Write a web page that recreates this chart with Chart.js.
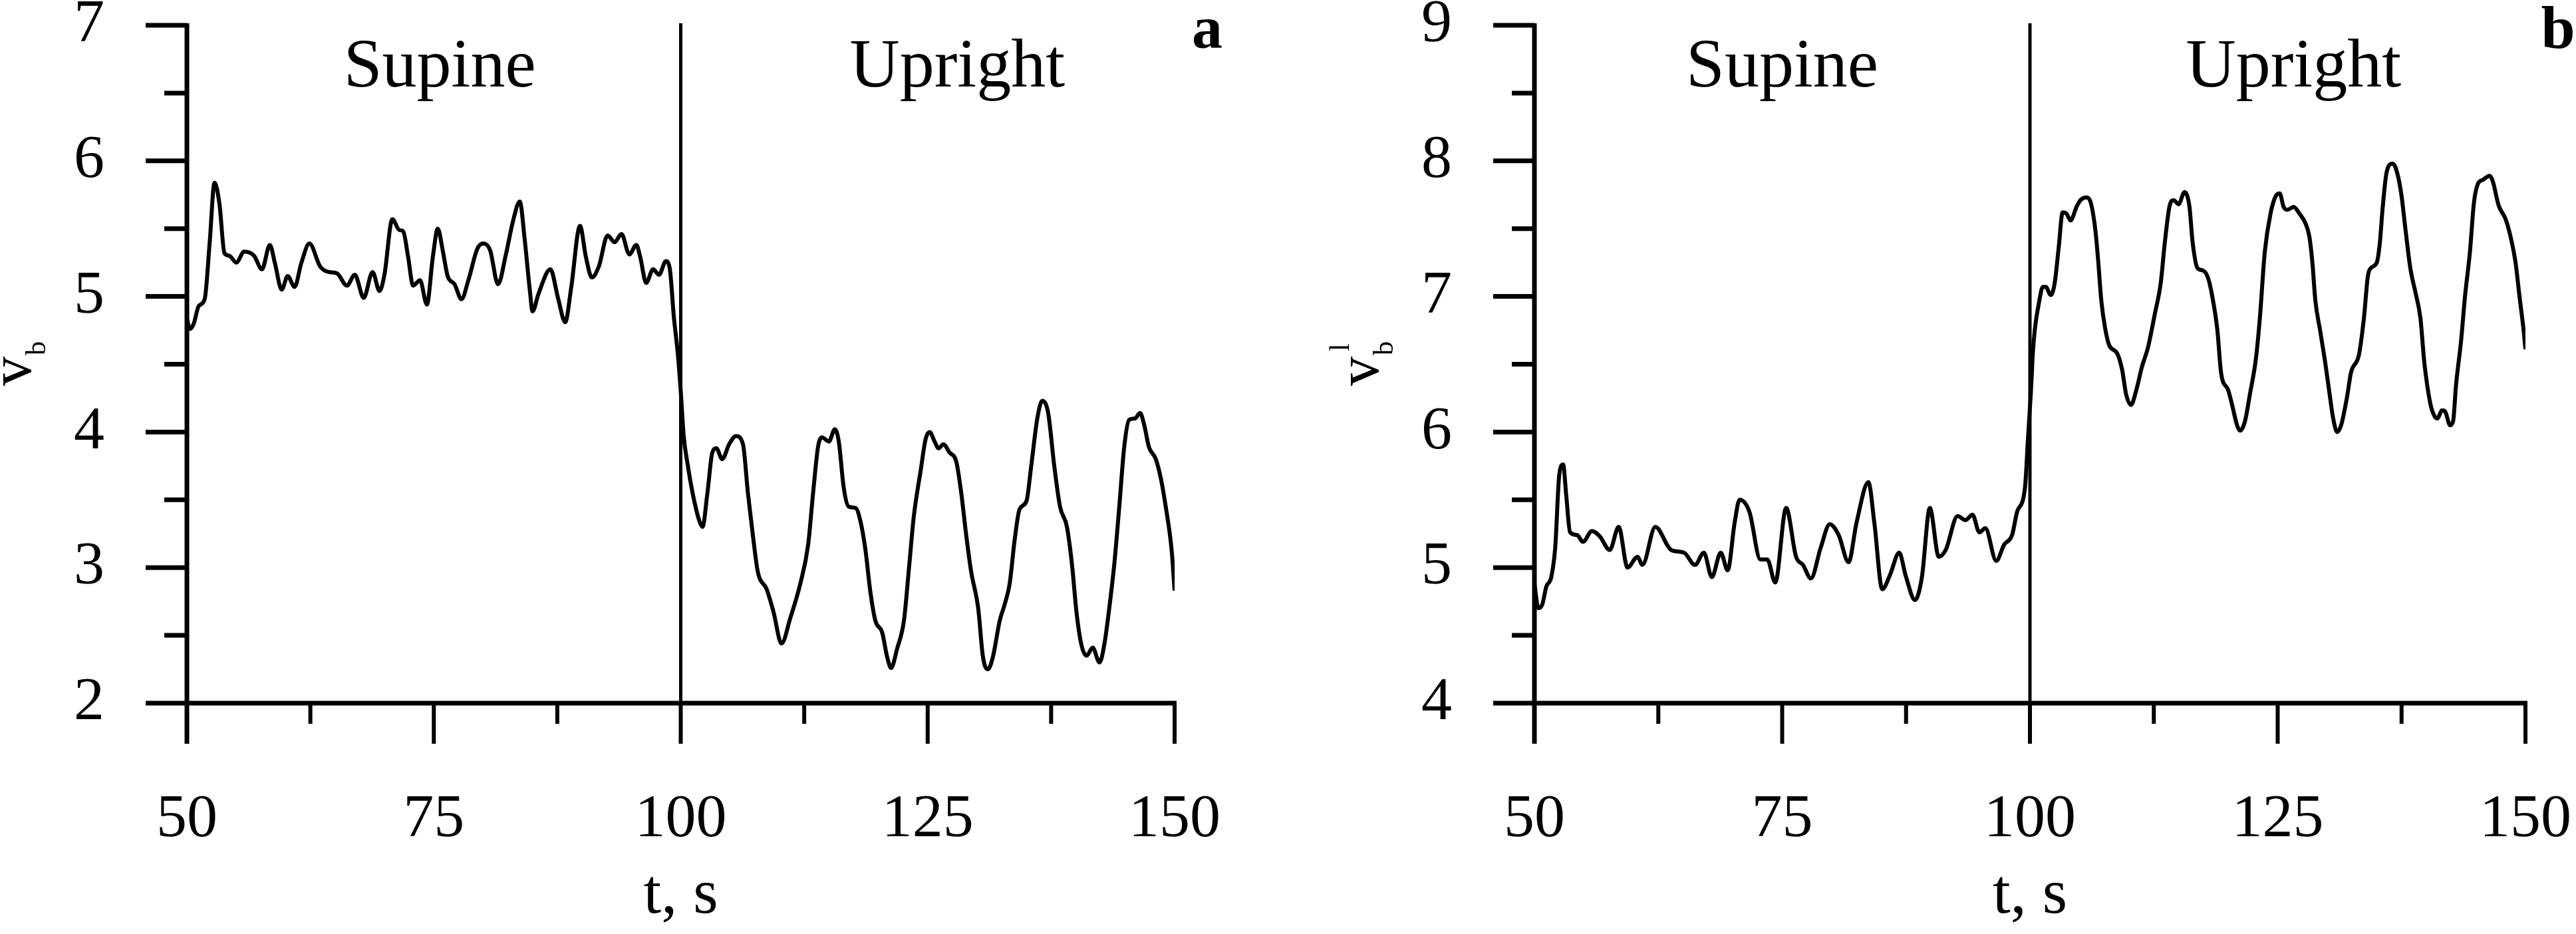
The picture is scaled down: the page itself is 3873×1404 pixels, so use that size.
<!DOCTYPE html>
<html>
<head>
<meta charset="utf-8">
<script src="https://cdn.jsdelivr.net/npm/chart.js@4.4.1/dist/chart.umd.min.js"></script>
<style>
  html, body { margin: 0; padding: 0; background: #fff; }
  #wrap { position: relative; width: 3873px; height: 1404px; overflow: hidden; }
  .panel { position: absolute; top: 0; height: 1404px; }
  #panelA { left: 0; width: 1936px; }
  #panelB { left: 1936px; width: 1937px; }
</style>
</head>
<body>
<div id="wrap">
  <div class="panel" id="panelA"><canvas id="chartA" width="1936" height="1404"></canvas></div>
  <div class="panel" id="panelB"><canvas id="chartB" width="1937" height="1404"></canvas></div>
</div>
<script>
const timeTicks = [50, 75, 100, 125, 150];
const vbTicks = [2, 3, 4, 5, 6, 7];
const vblTicks = [4, 5, 6, 7, 8, 9];

// panel a: v_b
const vbTime = [50.0, 50.3, 50.7, 51.2, 51.8, 52.3, 52.8, 53.3, 53.8, 54.3, 55.0, 55.8, 56.8, 57.6, 58.4, 58.9, 59.6, 60.2, 60.9, 61.6,
  62.4, 63.5, 64.4, 65.2, 66.2, 67.0, 67.9, 68.8, 69.5, 70.0, 70.8, 71.5, 71.9, 72.4, 72.9, 73.6, 74.3, 74.9, 75.4, 75.9,
  76.4, 77.1, 77.8, 78.5, 79.4, 80.0, 80.7, 81.5, 82.3, 83.0, 83.7, 84.2, 84.7, 85.0, 85.6, 86.8, 87.6, 88.3, 88.9, 89.8,
  90.4, 91.0, 91.7, 92.6, 93.3, 94.0, 94.8, 95.5, 95.9, 96.5, 97.2, 97.8, 98.5, 98.9, 99.3, 99.7, 100.0, 100.3, 100.7, 101.2,
  101.9, 102.2, 102.7, 103.2, 103.6, 104.2, 104.9, 105.6, 106.3, 106.8, 107.3, 107.8, 108.7, 109.4, 110.2, 111.1, 112.1, 112.9, 113.4, 113.9,
  114.3, 115.0, 115.6, 116.0, 116.5, 117.0, 117.7, 118.2, 118.7, 119.2, 119.7, 120.4, 120.9, 121.3, 121.9, 122.6, 123.1, 123.6, 124.3, 124.8,
  125.2, 125.7, 126.1, 126.6, 127.2, 127.9, 128.4, 128.9, 129.4, 130.1, 130.6, 131.1, 131.6, 132.3, 132.8, 133.3, 133.8, 134.3, 135.0, 135.5,
  136.1, 136.6, 137.2, 137.8, 138.4, 139.1, 139.6, 140.1, 140.6, 141.1, 141.7, 142.4, 142.9, 143.4, 143.9, 144.4, 144.9, 145.4, 146.0, 146.5,
  146.9, 147.4, 148.1, 148.6, 149.1, 149.7, 150.0];
const vbValues = [4.84, 4.76, 4.80, 4.93, 4.98, 5.39, 5.84, 5.68, 5.32, 5.30, 5.25, 5.33, 5.30, 5.20, 5.38, 5.25, 5.05, 5.15, 5.07, 5.25,
  5.39, 5.22, 5.18, 5.17, 5.08, 5.16, 4.99, 5.18, 5.04, 5.16, 5.57, 5.49, 5.48, 5.29, 5.08, 5.12, 4.94, 5.29, 5.50, 5.34,
  5.15, 5.09, 4.98, 5.12, 5.35, 5.39, 5.34, 5.09, 5.31, 5.55, 5.70, 5.42, 5.06, 4.89, 5.02, 5.20, 4.98, 4.81, 5.06, 5.52,
  5.29, 5.14, 5.22, 5.45, 5.40, 5.46, 5.31, 5.38, 5.29, 5.10, 5.20, 5.16, 5.26, 5.20, 4.85, 4.58, 4.30, 3.97, 3.76, 3.55,
  3.34, 3.30, 3.55, 3.85, 3.88, 3.80, 3.91, 3.97, 3.91, 3.55, 3.24, 2.97, 2.84, 2.67, 2.44, 2.63, 2.88, 3.17, 3.55, 3.89,
  3.96, 3.93, 4.02, 3.93, 3.59, 3.45, 3.44, 3.34, 3.13, 2.82, 2.61, 2.52, 2.34, 2.26, 2.40, 2.61, 2.99, 3.38, 3.72, 3.95,
  4.00, 3.93, 3.88, 3.91, 3.85, 3.78, 3.55, 3.24, 2.97, 2.71, 2.34, 2.25, 2.34, 2.61, 2.73, 2.88, 3.20, 3.43, 3.49, 3.76,
  4.10, 4.23, 4.14, 3.76, 3.45, 3.30, 3.03, 2.65, 2.42, 2.35, 2.41, 2.30, 2.44, 2.71, 3.03, 3.45, 3.89, 4.09, 4.10, 4.14,
  4.06, 3.89, 3.80, 3.66, 3.45, 3.13, 2.83];

// panel b: v_b^l
const vblTime = [50.0, 50.4, 50.8, 51.2, 51.7, 52.1, 52.5, 52.9, 53.2, 53.6, 54.3, 54.9, 55.8, 56.6, 57.6, 58.5, 59.4, 60.4, 60.9, 62.2,
  63.8, 65.1, 66.2, 67.1, 67.9, 68.8, 69.5, 70.2, 70.7, 71.7, 72.8, 73.5, 74.3, 75.4, 76.4, 77.1, 77.9, 78.9, 79.8, 80.7,
  81.7, 82.5, 83.7, 84.3, 85.1, 85.9, 86.8, 87.5, 88.4, 89.1, 89.9, 90.8, 91.5, 92.7, 93.5, 94.2, 94.9, 95.5, 96.6, 97.4,
  98.2, 98.7, 99.5, 99.8, 100.1, 100.3, 100.5, 100.9, 101.3, 101.6, 102.1, 102.5, 102.9, 103.3, 103.7, 104.1, 104.7, 105.1, 105.7, 106.1,
  106.6, 106.9, 107.2, 107.6, 108.0, 108.8, 109.3, 109.7, 110.2, 110.7, 111.3, 111.9, 112.6, 113.2, 113.6, 114.1, 114.5, 115.0, 115.6, 116.1,
  116.4, 116.9, 117.5, 118.0, 118.4, 118.9, 119.3, 120.0, 120.4, 120.9, 121.2, 121.7, 122.2, 122.8, 123.2, 123.7, 124.3, 124.8, 125.2, 125.6,
  126.0, 126.6, 127.2, 127.8, 128.2, 128.5, 128.8, 129.3, 129.8, 130.2, 130.6, 131.0, 131.4, 132.0, 132.4, 133.2, 133.7, 134.1, 134.4, 135.0,
  135.3, 135.6, 136.0, 136.6, 137.1, 137.5, 137.9, 138.4, 138.9, 139.4, 139.8, 140.4, 140.8, 141.1, 141.6, 141.9, 142.4, 142.7, 143.0, 143.5,
  143.9, 144.4, 144.8, 145.2, 145.7, 146.4, 146.7, 147.3, 148.0, 148.5, 149.0, 149.4, 149.8, 150.0];
const vblValues = [4.88, 4.70, 4.73, 4.86, 4.93, 5.15, 5.68, 5.76, 5.54, 5.26, 5.24, 5.19, 5.27, 5.23, 5.13, 5.30, 5.00, 5.08, 5.02, 5.30,
  5.13, 5.11, 5.02, 5.11, 4.93, 5.11, 4.98, 5.33, 5.50, 5.41, 5.06, 5.06, 4.89, 5.44, 5.08, 5.02, 4.92, 5.15, 5.32, 5.24,
  5.04, 5.33, 5.63, 5.33, 4.84, 4.95, 5.11, 4.93, 4.76, 4.93, 5.44, 5.08, 5.13, 5.38, 5.35, 5.39, 5.26, 5.29, 5.05, 5.17,
  5.24, 5.41, 5.59, 5.95, 6.30, 6.59, 6.76, 6.95, 7.07, 7.07, 7.01, 7.10, 7.36, 7.62, 7.61, 7.56, 7.66, 7.71, 7.73, 7.70,
  7.49, 7.25, 6.97, 6.76, 6.64, 6.58, 6.46, 6.28, 6.20, 6.30, 6.48, 6.62, 6.87, 7.10, 7.39, 7.67, 7.71, 7.68, 7.77, 7.66,
  7.41, 7.21, 7.19, 7.13, 7.00, 6.76, 6.43, 6.31, 6.20, 6.05, 6.01, 6.08, 6.28, 6.54, 6.84, 7.33, 7.62, 7.74, 7.76, 7.66,
  7.64, 7.66, 7.61, 7.54, 7.44, 7.25, 6.97, 6.74, 6.51, 6.30, 6.10, 6.00, 6.05, 6.26, 6.44, 6.57, 6.84, 7.15, 7.21, 7.25,
  7.39, 7.66, 7.92, 7.98, 7.90, 7.74, 7.49, 7.20, 7.03, 6.84, 6.51, 6.21, 6.12, 6.10, 6.16, 6.15, 6.05, 6.08, 6.35, 6.67,
  7.00, 7.33, 7.69, 7.83, 7.86, 7.89, 7.85, 7.67, 7.57, 7.44, 7.25, 7.00, 6.76, 6.61];

const serif = "'Liberation Serif', 'Times New Roman', serif";

function line(ctx, x1, y1, x2, y2) {
    ctx.beginPath();
    ctx.moveTo(x1, y1);
    ctx.lineTo(x2, y2);
    ctx.stroke();
}

// axes, half-step ticks, the posture divider and the in-plot texts
const panelDecor = {
    id: 'panelDecor',
    afterDraw(chart, args, opts) {
        const ctx = chart.ctx;
        const xs = chart.scales.x;
        const ys = chart.scales.y;
        const left = xs.getPixelForValue(xs.min);
        const right = xs.getPixelForValue(xs.max);
        const top = ys.getPixelForValue(ys.max);
        const bottom = ys.getPixelForValue(ys.min);

        ctx.save();
        ctx.strokeStyle = '#000';
        ctx.lineCap = 'butt';

        ctx.lineWidth = 7;
        for (let v = ys.min; v <= ys.max + 1e-6; v += 0.5) {
            const py = ys.getPixelForValue(v);
            const len = Number.isInteger(v) ? 62 : 34;
            line(ctx, left - len, py, left, py);
        }
        ctx.lineWidth = 6;
        for (let t = xs.min; t <= xs.max + 1e-6; t += 12.5) {
            const px = xs.getPixelForValue(t);
            const len = (t - xs.min) % 25 === 0 ? 61 : 31;
            line(ctx, px, bottom, px, bottom + len);
        }
        ctx.lineWidth = 7;
        line(ctx, left, top - 3, left, bottom + 61);
        line(ctx, left, bottom, right + 3, bottom);

        ctx.lineWidth = 5;
        const pd = xs.getPixelForValue(opts.divider);
        line(ctx, pd, top - 3, pd, bottom);

        ctx.fillStyle = '#000';
        ctx.textAlign = 'center';
        ctx.textBaseline = 'alphabetic';
        ctx.font = '104px ' + serif;
        opts.notes.forEach(n => {
            ctx.fillText(n.text, xs.getPixelForValue(n.t), top + 92);
        });
        ctx.font = 'bold 92px ' + serif;
        ctx.fillText(opts.letter, xs.getPixelForValue(opts.letterT), top + 34);

        // rotated y title with sub/superscript
        const lab = opts.yLabel;
        ctx.save();
        ctx.translate(left - 235, (top + bottom) / 2);
        ctx.rotate(-Math.PI / 2);
        ctx.textAlign = 'left';
        ctx.font = '88px ' + serif;
        const wMain = ctx.measureText(lab.main).width;
        ctx.font = '42px ' + serif;
        const wSub = ctx.measureText(lab.sub).width;
        const x0 = -(wMain + wSub) / 2;
        ctx.font = '88px ' + serif;
        ctx.fillText(lab.main, x0, 0);
        ctx.font = '42px ' + serif;
        ctx.fillText(lab.sub, x0 + wMain + 2, 22);
        if (lab.sup) ctx.fillText(lab.sup, x0 + wMain + 8, -44);
        ctx.restore();

        ctx.restore();
    }
};

function makePanel(canvasId, times, values, yTicks, axisWidth, padRight, decor) {
    const points = times.map((t, i) => ({ x: t, y: values[i] }));
    return new Chart(document.getElementById(canvasId), {
        type: 'line',
        data: {
            datasets: [{
                data: points,
                borderColor: '#000',
                borderWidth: 6,
                pointRadius: 0,
                fill: false,
                cubicInterpolationMode: 'monotone'
            }]
        },
        options: {
            responsive: false,
            animation: false,
            events: [],
            layout: { padding: { left: 0, top: 38, right: padRight, bottom: 0 } },
            plugins: {
                legend: { display: false },
                tooltip: { enabled: false },
                panelDecor: decor
            },
            scales: {
                x: {
                    type: 'linear',
                    min: timeTicks[0],
                    max: timeTicks[timeTicks.length - 1],
                    afterBuildTicks: s => { s.ticks = timeTicks.map(v => ({ value: v })); },
                    grid: { display: false, drawTicks: false },
                    border: { display: false },
                    ticks: { color: '#000', font: { family: serif, size: 92 }, padding: 121, maxRotation: 0, autoSkip: false },
                    title: { display: true, text: 't, s', color: '#000', font: { family: serif, size: 96 }, padding: 0 },
                    afterFit: s => { s.height = 347; s.paddingLeft = 0; s.paddingRight = 0; }
                },
                y: {
                    type: 'linear',
                    min: yTicks[0],
                    max: yTicks[yTicks.length - 1],
                    afterBuildTicks: s => { s.ticks = yTicks.map(v => ({ value: v })); },
                    grid: { display: false, drawTicks: false },
                    border: { display: false },
                    ticks: { color: '#000', font: { family: serif, size: 92 }, padding: 124, autoSkip: false },
                    afterFit: s => { s.width = axisWidth; s.paddingTop = 0; s.paddingBottom = 0; }
                }
            }
        },
        plugins: [panelDecor]
    });
}

makePanel('chartA', vbTime, vbValues, vbTicks, 281, 170, {
    divider: 100,
    notes: [{ text: 'Supine', t: 75.6 }, { text: 'Upright', t: 128.0 }],
    letter: 'a', letterT: 153.3,
    yLabel: { main: 'v', sub: 'b', sup: '' }
});
makePanel('chartB', vblTime, vblValues, vblTicks, 371, 76, {
    divider: 100,
    notes: [{ text: 'Supine', t: 75.0 }, { text: 'Upright', t: 126.6 }],
    letter: 'b', letterT: 153.3,
    yLabel: { main: 'v', sub: 'b', sup: 'l' }
});
</script>
</body>
</html>
